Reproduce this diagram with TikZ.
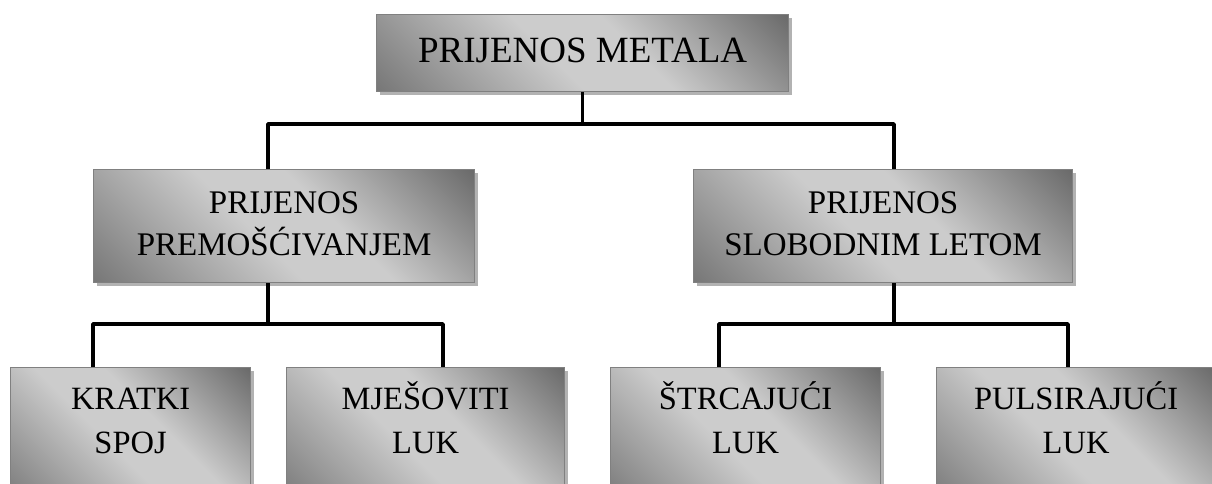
\documentclass[tikz,border=0pt]{standalone}
\usepackage{fontspec}
\setmainfont{Liberation Serif}
\usetikzlibrary{shadows}
\pgfdeclarehorizontalshading{metal}{100bp}{rgb(0bp)=(0.45,0.45,0.45); rgb(15bp)=(0.47,0.47,0.47); rgb(45bp)=(0.80,0.80,0.80); rgb(58bp)=(0.80,0.80,0.80); rgb(85bp)=(0.42,0.42,0.42); rgb(100bp)=(0.42,0.42,0.42)}
\newcommand\twoline[2]{\begin{tabular}[t]{@{}c@{}}#1\\#2\end{tabular}}
\tikzset{
  metalbox/.style={draw=black!50, line width=1.2pt, shade, shading=metal, shading angle=45,
    drop shadow={shadow xshift=3pt, shadow yshift=-3pt, fill=black, opacity=0.3},
    inner sep=0pt, anchor=north west, text=black},
  topfont/.style={font=\fontsize{37pt}{44pt}\selectfont},
  midfont/.style={font=\fontsize{33pt}{42pt}\selectfont},
  lowfont/.style={font=\fontsize{32.5pt}{44pt}\selectfont},
  conn/.style={draw=black, line width=3.5pt, line join=round}
}
\begin{document}
\begin{tikzpicture}[x=1pt, y=-1pt]
\useasboundingbox (0,0) rectangle (1212,483);
\clip (0,0) rectangle (1212,483);
\fill[white] (0,0) rectangle (1212,483);

% boxes
\node[metalbox, topfont, minimum width=412pt, text height=48pt, text depth=29pt] (top) at (376,14) {PRIJENOS METALA};
\node[metalbox, midfont, minimum width=381pt, text height=44pt, text depth=69pt] (ml) at (93,169) {\twoline{PRIJENOS}{PREMOŠĆIVANJEM}};
\node[metalbox, midfont, minimum width=379pt, text height=44pt, text depth=69pt] (mr) at (693,169) {\twoline{PRIJENOS}{SLOBODNIM LETOM}};
\node[metalbox, lowfont, minimum width=240pt, text height=42pt, text depth=98pt] (kr) at (10,367) {\twoline{KRATKI}{SPOJ}};
\node[metalbox, lowfont, minimum width=278pt, text height=42pt, text depth=98pt] (mj) at (286,367) {\twoline{MJEŠOVITI}{LUK}};
\node[metalbox, lowfont, minimum width=270pt, text height=42pt, text depth=98pt] (st) at (610,367) {\twoline{ŠTRCAJUĆI}{LUK}};
\node[metalbox, lowfont, minimum width=279pt, text height=42pt, text depth=98pt] (pu) at (936,367) {\twoline{PULSIRAJUĆI}{LUK}};

% bus coordinates
\coordinate (b0l) at (268,124);
\coordinate (b0r) at (894,124);
\coordinate (b1l) at (93,324);
\coordinate (b1r) at (443,324);
\coordinate (b2l) at (719,324);
\coordinate (b2r) at (1068,324);

% connectors
\draw[conn] (top.south) -- (top.south |- b0l);
\draw[conn] (b0l |- ml.north) -- (b0l) -- (b0r) -- (b0r |- mr.north);
\draw[conn] (ml.south -| b0l) -- (b0l |- b1l);
\draw[conn] (b1l |- kr.north) -- (b1l) -- (b1r) -- (b1r |- mj.north);
\draw[conn] (mr.south -| b0r) -- (b0r |- b2l);
\draw[conn] (b2l |- st.north) -- (b2l) -- (b2r) -- (b2r |- pu.north);
\end{tikzpicture}
\end{document}
